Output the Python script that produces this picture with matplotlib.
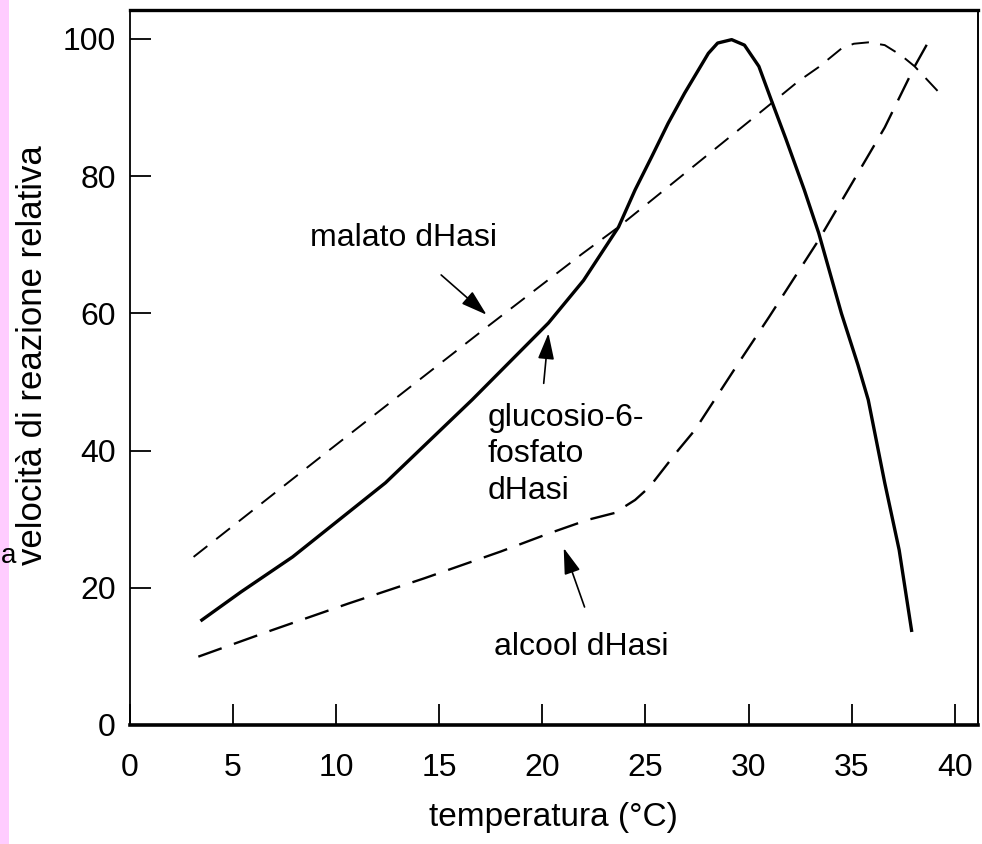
import matplotlib
matplotlib.use("Agg")
import matplotlib.pyplot as plt
from matplotlib.patches import Rectangle

plt.rcParams['font.family'] = ['Liberation Sans', 'DejaVu Sans']

# glucosio-6-fosfato dHasi (linea continua)
t_glu = [3.5, 5.4, 7.9, 12.4, 16.6, 20.3, 22.0, 23.7, 24.5, 25.3, 26.1, 26.9,
         28.05, 28.5, 29.18, 29.8, 30.5, 31.1, 31.8, 32.7, 33.4, 34.5, 35.3,
         35.8, 36.6, 37.3, 37.9]
v_glu = [15.3, 19.4, 24.5, 35.3, 47.4, 58.6, 64.8, 72.6, 78.0, 82.8, 87.7, 92.1,
         97.9, 99.4, 99.9, 99.1, 96.0, 91.1, 85.5, 78.0, 71.7, 60.0, 52.5,
         47.4, 35.3, 25.5, 13.8]

# malato dHasi (tratteggio corto)
t_mal = [3.1, 9.65, 17.4, 21.9, 23.7, 31.1, 32.4, 33.4, 34.5, 35.1, 35.8, 36.6,
         37.4, 38.05, 39.2]
v_mal = [24.5, 40.0, 58.2, 68.6, 72.6, 90.6, 93.8, 95.9, 98.6, 99.3, 99.5, 99.1,
         97.6, 96.0, 92.3]

# alcool dHasi (tratteggio lungo)
t_alc = [3.33, 6.88, 10.6, 14.3, 18.0, 20.3, 22.2, 23.5, 24.5, 25.2, 25.9, 26.6,
         27.4, 29.5, 31.0, 33.4, 36.6, 38.05, 38.7]
v_alc = [9.96, 13.8, 17.7, 21.4, 25.3, 27.9, 29.9, 30.9, 32.8, 34.7, 37.4, 40.1,
         43.0, 52.7, 59.5, 70.7, 87.1, 96.0, 99.5]

xticks = [0, 5, 10, 15, 20, 25, 30, 35, 40]
yticks = [0, 20, 40, 60, 80, 100]

fig = plt.figure(figsize=(9.82, 8.44), dpi=100)
ax = fig.add_axes([0.132, 0.141, 0.8635, 0.847])

ax.plot(t_glu, v_glu, color='black', lw=2.4, solid_joinstyle='round')
ax.plot(t_mal, v_mal, color='black', lw=1.4, linestyle=(0, (9, 5.8)))
ax.plot(t_alc, v_alc, color='black', lw=1.7, linestyle=(0, (10.5, 5.5)))

ax.set_xlim(0, 41.1)
ax.set_ylim(0, 104.2)
ax.set_xticks(xticks)
ax.set_yticks(yticks)
ax.tick_params(axis='both', direction='in', length=15, width=1.3, labelsize=23)
ax.tick_params(axis='x', pad=20)
ax.tick_params(axis='y', pad=10)

for side, w in [('top', 2.4), ('bottom', 2.6), ('left', 1.3), ('right', 1.4)]:
    ax.spines[side].set_linewidth(w)

ax.set_xlabel('temperatura (°C)', fontsize=24, labelpad=14)

# etichette e frecce
arrow = dict(arrowstyle='-|>,head_length=0.8,head_width=0.25', color='black',
             lw=1.2, mutation_scale=20, shrinkA=0, shrinkB=0)
ax.text(8.73, 71.0, 'malato dHasi', fontsize=23, ha='left', va='center')
ax.annotate('', xy=(17.3, 59.8), xytext=(15.1, 65.6), arrowprops=arrow)

ax.text(17.35, 47.0, 'glucosio-6-\nfosfato\ndHasi', fontsize=23, ha='left',
        va='top', linespacing=1.3)
ax.annotate('', xy=(20.3, 57.1), xytext=(20.07, 49.8), arrowprops=arrow)

ax.text(17.65, 11.4, 'alcool dHasi', fontsize=23, ha='left', va='center')
ax.annotate('', xy=(21.04, 25.8), xytext=(22.05, 17.2), arrowprops=arrow)

# etichetta asse y posizionata come nell'originale
fig.text(33 / 982, 1 - 355 / 844, 'velocità di reazione relativa', rotation=90,
         fontsize=25, ha='center', va='center')

# striscia rosa a sinistra con frammento di testo della slide accanto
fig.patches.append(Rectangle((0, 0), 9 / 982, 1, transform=fig.transFigure,
                             facecolor='#ffccff', edgecolor='none', zorder=0))
fig.text(1 / 982, 1 - 556 / 844, 'a', fontsize=20, ha='left', va='center')

fig.savefig('out.png', dpi=100)
